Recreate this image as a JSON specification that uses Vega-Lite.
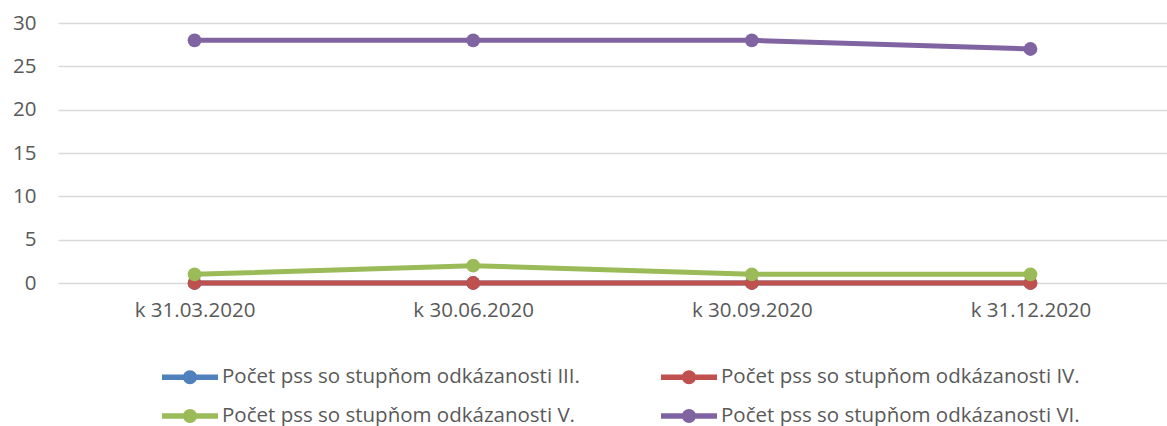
{
  "$schema": "https://vega.github.io/schema/vega-lite/v6.json",
  "autosize": {"type": "none"},
  "padding": {"left": 58, "top": 23, "right": 0, "bottom": 143},
  "width": 1109,
  "height": 260,
  "background": "white",
  "config": {
    "view": {"stroke": null},
    "font": "Open Sans",
    "axis": {"labelFont": "Open Sans", "labelColor": "#595959", "labelFontSize": 20.5}
  },
  "data": {
    "values": [
      {"date": "k 31.03.2020", "series": "Počet pss so stupňom odkázanosti III.", "value": 0},
      {"date": "k 30.06.2020", "series": "Počet pss so stupňom odkázanosti III.", "value": 0},
      {"date": "k 30.09.2020", "series": "Počet pss so stupňom odkázanosti III.", "value": 0},
      {"date": "k 31.12.2020", "series": "Počet pss so stupňom odkázanosti III.", "value": 0},
      {"date": "k 31.03.2020", "series": "Počet pss so stupňom odkázanosti IV.", "value": 0},
      {"date": "k 30.06.2020", "series": "Počet pss so stupňom odkázanosti IV.", "value": 0},
      {"date": "k 30.09.2020", "series": "Počet pss so stupňom odkázanosti IV.", "value": 0},
      {"date": "k 31.12.2020", "series": "Počet pss so stupňom odkázanosti IV.", "value": 0},
      {"date": "k 31.03.2020", "series": "Počet pss so stupňom odkázanosti V.", "value": 1},
      {"date": "k 30.06.2020", "series": "Počet pss so stupňom odkázanosti V.", "value": 2},
      {"date": "k 30.09.2020", "series": "Počet pss so stupňom odkázanosti V.", "value": 1},
      {"date": "k 31.12.2020", "series": "Počet pss so stupňom odkázanosti V.", "value": 1},
      {"date": "k 31.03.2020", "series": "Počet pss so stupňom odkázanosti VI.", "value": 28},
      {"date": "k 30.06.2020", "series": "Počet pss so stupňom odkázanosti VI.", "value": 28},
      {"date": "k 30.09.2020", "series": "Počet pss so stupňom odkázanosti VI.", "value": 28},
      {"date": "k 31.12.2020", "series": "Počet pss so stupňom odkázanosti VI.", "value": 27}
    ]
  },
  "mark": {"type": "line", "strokeWidth": 5, "point": {"size": 190, "filled": true, "opacity": 1}},
  "encoding": {
    "x": {
      "field": "date", "type": "ordinal", "sort": null,
      "scale": {"type": "point", "padding": 0.49},
      "axis": {"title": null, "labelAngle": 0, "domain": false, "ticks": false, "tickSize": 0, "labelPadding": 17, "grid": false}
    },
    "y": {
      "field": "value", "type": "quantitative",
      "scale": {"domain": [0, 30], "nice": false, "zero": true},
      "axis": {"title": null, "values": [0, 5, 10, 15, 20, 25, 30], "domain": false, "ticks": false, "tickSize": 0, "labelPadding": 22, "grid": true, "gridColor": "#D9D9D9", "gridWidth": 1.3}
    },
    "color": {
      "field": "series", "type": "nominal", "sort": null,
      "scale": {
        "domain": ["Počet pss so stupňom odkázanosti III.", "Počet pss so stupňom odkázanosti IV.", "Počet pss so stupňom odkázanosti V.", "Počet pss so stupňom odkázanosti VI."],
        "range": ["#4F81BD", "#C0504D", "#9BBB59", "#8064A2"]
      },
      "legend": {
        "title": null,
        "orient": "none",
        "direction": "horizontal",
        "legendX": 104,
        "legendY": 326,
        "columns": 2,
        "columnPadding": 81,
        "rowPadding": -19,
        "padding": 0,
        "symbolType": "M-1,-0.1H1V0.1H-1Z M-0.25,0A0.25,0.25 0 1,1 0.25,0A0.25,0.25 0 1,1 -0.25,0Z",
        "symbolSize": 3136,
        "symbolStrokeWidth": 0,
        "symbolOpacity": 1,
        "labelFont": "Open Sans",
        "labelFontSize": 20.5,
        "labelColor": "#595959",
        "labelOffset": 4,
        "labelLimit": 500
      }
    },
    "order": {"field": "series"}
  }
}
